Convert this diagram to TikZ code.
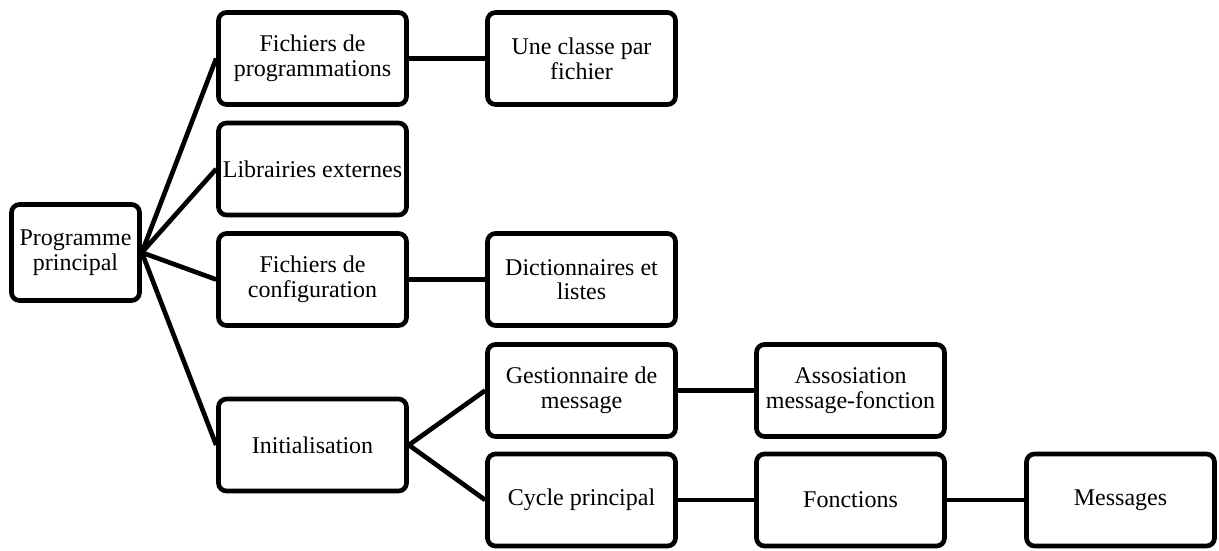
\documentclass[tikz,border=0pt]{standalone}
\usepackage{fontspec}
\setmainfont{Liberation Serif}
\begin{document}
\begin{tikzpicture}[x=0.75pt,y=-0.75pt,
  box/.style={draw=black, line width=3.5pt, rounded corners=6pt, fill=white,
    minimum width=141pt, minimum height=69pt, inner sep=0pt, align=center,
    font=\fontsize{18}{18.5}\selectfont},
  rootbox/.style={box, minimum width=96pt, minimum height=72pt},
  link/.style={line width=3.5pt}]
\useasboundingbox (0,0) rectangle (1219,550);
\node[rootbox] (root) at (75.5,252.5) {Programme\\principal};
\node[box] (fp) at (312.5,58.5) {Fichiers de\\programmations};
\node[box] (le) at (312.5,169) {Librairies externes};
\node[box] (fc) at (312.5,279.5) {Fichiers de\\configuration};
\node[box] (init) at (312.5,445) {Initialisation};
\node[box] (ucf) at (581.5,58.5) {Une classe par\\fichier};
\node[box] (dl) at (581.5,279.5) {Dictionnaires et\\listes};
\node[box] (gm) at (581.5,390.5) {Gestionnaire de\\message};
\node[box] (cp) at (581.5,500) {Cycle principal};
\node[box] (amf) at (850.5,390.5) {Assosiation\\message-fonction};
\node[box] (fn) at (850.5,500) {Fonctions};
\node[box] (msg) at (1120.5,500) {Messages};
\begin{scope}[on background layer/.try]
\end{scope}
\draw[link] (root.east) -- (fp.west);
\draw[link] (root.east) -- (le.west);
\draw[link] (root.east) -- (fc.west);
\draw[link] (root.east) -- (init.west);
\draw[link] (fp.east) -- (ucf.west);
\draw[link] (fc.east) -- (dl.west);
\draw[link] (init.east) -- (gm.west);
\draw[link] (init.east) -- (cp.west);
\draw[link] (gm.east) -- (amf.west);
\draw[link] (cp.east) -- (fn.west);
\draw[link] (fn.east) -- (msg.west);
\end{tikzpicture}
\end{document}
